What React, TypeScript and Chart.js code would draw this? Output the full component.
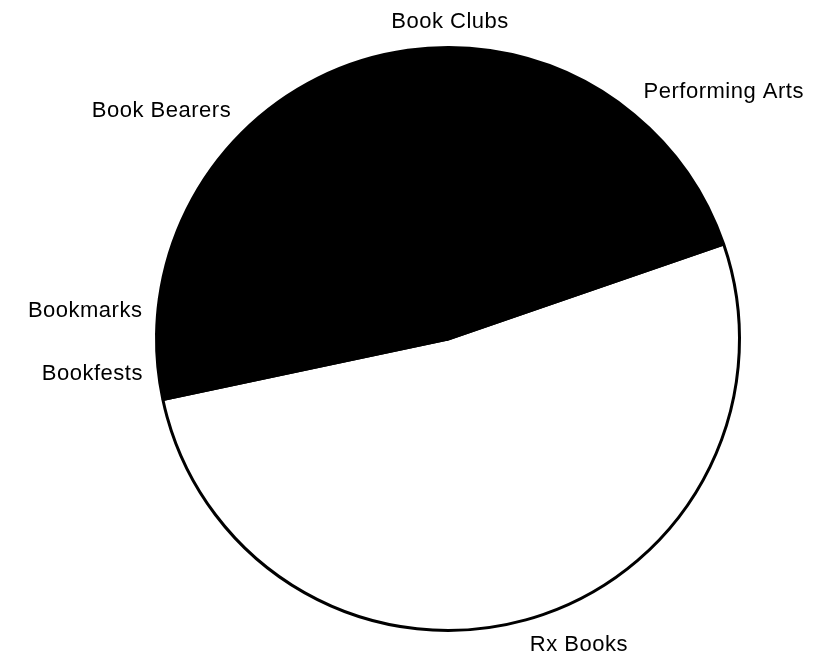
import React, { useEffect, useRef } from "react";
import { Chart, registerables } from "chart.js";

Chart.register(...registerables);

const categories: string[] = ["Rx Books", "Bookfests", "Bookmarks", "Book Bearers", "Book Clubs", "Performing Arts"];
const shares: number[] = [51.9, 3.6, 1.9, 20.6, 4.5, 17.4];
const sliceColors: string[] = ["#ffffff", "#000000", "#000000", "#000000", "#000000", "#000000"];

const labelPlugin = {
  id: "outsideLabels",
  afterDatasetsDraw(chart: any) {
    const ctx = chart.ctx as CanvasRenderingContext2D;
    const meta = chart.getDatasetMeta(0);
    ctx.save();
    ctx.font = '22px "Liberation Sans", Arial, sans-serif';
    try { (ctx as any).letterSpacing = "0.5px"; } catch (e) {}
    ctx.fillStyle = "#000000";
    ctx.textAlign = "center";
    ctx.textBaseline = "middle";
    const clamp = (v: number) => Math.max(-1, Math.min(1, v * 5));
    meta.data.forEach((arc: any, i: number) => {
      const p = arc.getProps(["x", "y", "startAngle", "endAngle", "outerRadius"], true);
      const mid = (p.startAngle + p.endAngle) / 2;
      const d = p.outerRadius + 15;
      const c = Math.cos(mid);
      const s = Math.sin(mid);
      const px = p.x + d * c;
      const py = p.y + d * s;
      const text = chart.data.labels[i] as string;
      const w = ctx.measureText(text).width;
      const h = 22;
      const cx = px + (w / 2) * clamp(c);
      const cy = py + (h / 2) * clamp(s);
      ctx.fillText(text, cx, cy);
    });
    ctx.restore();
  },
};

export default function App() {
  const ref = useRef<HTMLCanvasElement | null>(null);
  useEffect(() => {
    document.body.style.margin = "0";
    if (!ref.current) return;
    const chart = new Chart(ref.current, {
      type: "pie",
      data: {
        labels: categories,
        datasets: [
          {
            data: shares,
            backgroundColor: sliceColors,
            borderColor: "#000000",
            borderWidth: 3,
          },
        ],
      },
      options: {
        responsive: false,
        animation: false,
        rotation: 71,
        layout: { padding: { left: 155, right: 74, top: 46, bottom: 24 } },
        plugins: {
          legend: { display: false },
          tooltip: { enabled: false },
        },
      },
      plugins: [labelPlugin],
    });
    return () => chart.destroy();
  }, []);
  return (
    <div style={{ width: 815, height: 656, background: "#ffffff" }}>
      <canvas ref={ref} width={815} height={656} />
    </div>
  );
}
